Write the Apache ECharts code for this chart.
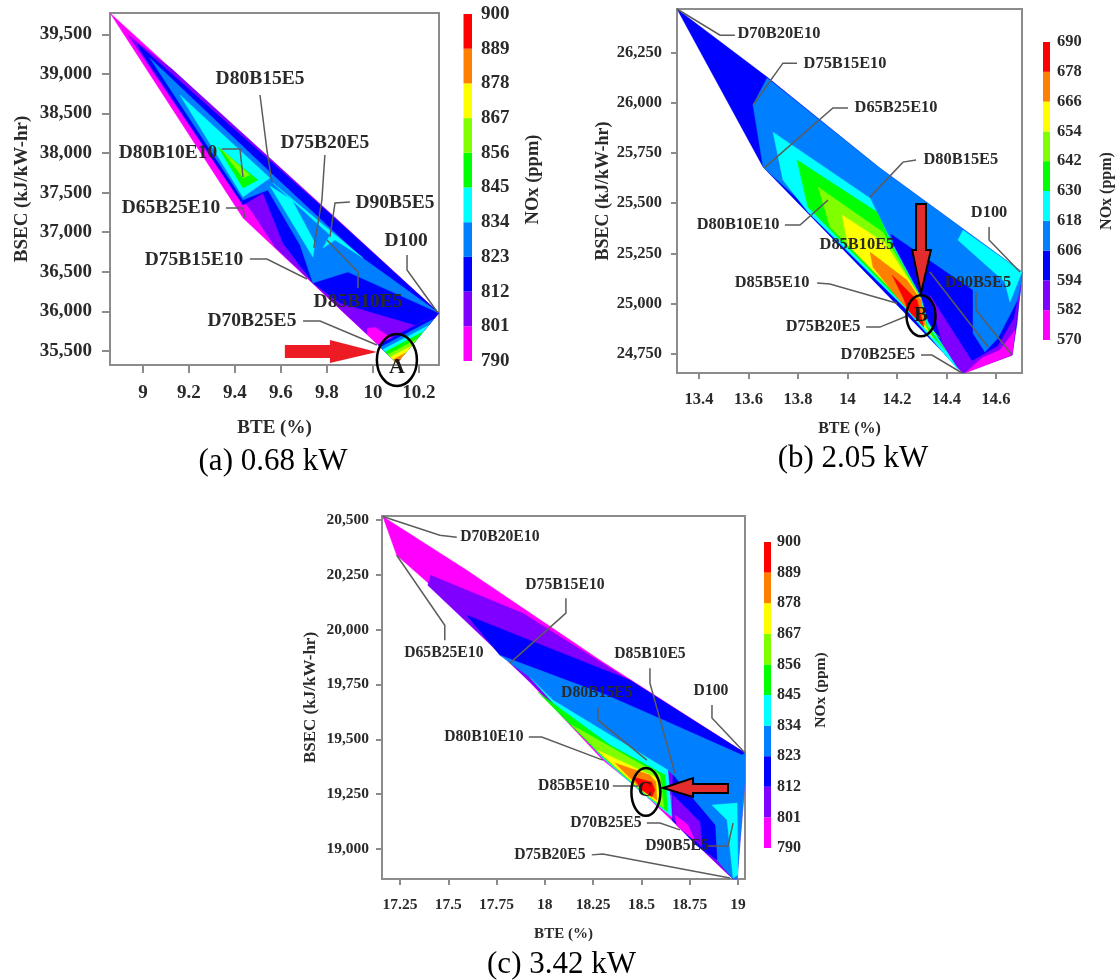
<!DOCTYPE html>
<html><head><meta charset="utf-8">
<style>html,body{margin:0;padding:0;background:#fff}#c{width:1116px;height:980px}</style>
<script src="https://cdn.jsdelivr.net/npm/echarts@6/dist/echarts.min.js"></script>
</head><body><div id="c"></div>
<script>
// NOx colour bands: each level is the lower bound of a band
const levelsAC = [790,801,812,823,834,845,856,867,878,889,900];
const levelsB = [570,582,594,606,618,630,642,654,666,678,690];
const bandColors = ['#ff00ff','#8000ff','#0000ff','#0080ff','#00ffff','#00ff00','#80ff00','#ffff00','#ff8000','#ff0000'];

// Axis ticks
const xTicksA = [9,9.2,9.4,9.6,9.8,10,10.2];
const yTicksA = [35500,36000,36500,37000,37500,38000,38500,39000,39500];
const xTicksB = [13.4,13.6,13.8,14,14.2,14.4,14.6];
const yTicksB = [24750,25000,25250,25500,25750,26000,26250];
const xTicksC = [17.25,17.5,17.75,18,18.25,18.5,18.75,19];
const yTicksC = [19000,19250,19500,19750,20000,20250,20500];

// Filled contour regions, painted in order: [band index, [BTE, BSEC] vertices]
const regionsA = [
 [0,[[8.857,39769],[10.287,35980],[10.104,35348],[10.022,35576],[9.435,37180]]],
 [1,[[8.935,39491],[9.126,39062],[9.857,37129],[10.287,35980],[10.083,35664],[10.009,35803],[9.974,35790],[9.974,35715],[9.857,36030],[9.574,36814],[9.478,37243],[9.452,37344],[9.413,37445]]],
 [2,[[8.978,39377],[9.813,37230],[10.287,35980],[10.183,35828],[9.857,36106],[9.739,36359],[9.609,36864],[9.522,37496],[9.435,37344],[8.987,39302]]],
 [3,[[9.030,39200],[9.552,37761],[9.943,36700],[10.287,35980],[9.891,36498],[9.739,36359],[9.683,36839],[9.543,37533],[9.435,37407]]],
 [4,[[9.161,38733],[9.552,37685],[9.435,37445]]],
 [4,[[9.552,37585],[9.648,37407],[9.748,36864],[9.739,36687]]],
 [4,[[9.565,37622],[9.957,36675],[9.835,36902],[9.783,36801],[9.813,36965]]],
 [5,[[9.326,38077],[9.500,37660],[9.435,37559]]],
 [6,[[9.343,38039],[9.465,37723],[9.435,37685]]],
 [2,[[10.022,35576],[10.287,35980],[10.104,35348]]],
 [3,[[10.032,35548],[10.265,35904],[10.104,35348]]],
 [4,[[10.043,35519],[10.241,35822],[10.104,35348]]],
 [5,[[10.053,35490],[10.217,35740],[10.104,35348]]],
 [6,[[10.065,35457],[10.191,35652],[10.104,35348]]],
 [7,[[10.076,35425],[10.167,35563],[10.104,35348]]],
 [8,[[10.088,35394],[10.141,35475],[10.104,35348]]],
 [9,[[10.098,35366],[10.119,35399],[10.104,35348]]]
];
const regionsB = [
 [2,[[13.311,26465],[13.675,26127],[14.131,25674],[14.705,25158],[14.685,24904],[14.665,24745],[14.467,24656],[13.659,25679]]],
 [3,[[13.675,26122],[14.131,25674],[14.705,25158],[14.697,25043],[14.608,24830],[14.555,24760],[14.507,24854],[14.507,25068],[14.172,25351],[14.184,25302],[13.840,25476],[13.659,25679],[13.618,25988]]],
 [4,[[14.467,25366],[14.705,25158],[14.656,25008],[14.636,25108],[14.446,25317]]],
 [1,[[14.333,25043],[14.503,24715],[14.608,24790],[14.673,24929],[14.701,25093],[14.665,24745],[14.467,24656],[14.394,24745]]],
 [0,[[14.677,24869],[14.665,24745],[14.475,24656],[14.543,24730],[14.616,24770]]],
 [4,[[13.699,25853],[14.091,25525],[14.180,25302],[14.297,25033],[14.325,24909],[14.454,24661],[14.232,24979],[13.840,25456],[13.739,25615]]],
 [5,[[13.796,25714],[14.119,25456],[14.180,25292],[14.293,25033],[14.321,24894],[14.394,24770],[14.232,24989],[13.840,25481]]],
 [6,[[13.881,25580],[14.143,25356],[14.212,25207],[14.293,25033],[14.317,24894],[14.374,24830],[14.240,24994],[13.929,25381]]],
 [7,[[13.978,25441],[14.151,25302],[14.293,25033],[14.313,24894],[14.345,24830],[14.232,25003],[14.002,25292]]],
 [8,[[14.091,25257],[14.240,25118],[14.297,25018],[14.313,24894],[14.273,24929],[14.200,25033],[14.103,25182]]],
 [9,[[14.180,25143],[14.281,25018],[14.309,24884],[14.244,24969],[14.224,25033]]]
];
const regionsC = [
 [0,[[17.161,20516],[17.596,20271],[18.285,19861],[19.036,19437],[19.036,19305],[18.995,18863],[18.974,18863],[18.492,19269],[18.300,19405],[17.922,19761],[17.596,20057],[17.233,20339]]],
 [1,[[17.409,20248],[17.886,20075],[19.036,19437],[18.995,18863],[18.974,18863],[18.777,19027],[18.741,19109],[18.673,19150],[18.658,19246],[18.492,19264],[17.922,19761],[17.394,20202]]],
 [2,[[17.596,20066],[18.285,19824],[18.440,19770],[19.036,19437],[19.020,19428],[18.580,19601],[18.321,19701],[17.767,19883]]],
 [3,[[17.767,19883],[18.321,19701],[18.580,19601],[19.020,19428],[19.036,19437],[19.036,19305],[18.995,18863],[18.974,18863],[18.891,18950],[18.881,19109],[18.663,19337],[18.637,19360],[18.041,19679],[17.922,19783]]],
 [2,[[18.663,19337],[18.881,19109],[18.891,18950],[18.782,19018],[18.658,19132]]],
 [1,[[18.663,19246],[18.803,19123],[18.813,19009],[18.658,19141]]],
 [0,[[18.673,19155],[18.741,19109],[18.777,19036],[18.684,19105]]],
 [4,[[18.865,19200],[18.995,19209],[19.000,18882],[18.974,18868],[18.943,19132]]],
 [4,[[17.922,19783],[18.041,19679],[18.637,19360],[18.658,19146],[18.492,19264],[18.300,19414]]],
 [5,[[17.964,19715],[18.337,19474],[18.622,19337],[18.637,19168],[18.492,19269],[18.300,19419]]],
 [6,[[18.140,19565],[18.414,19428],[18.596,19337],[18.616,19187],[18.492,19273],[18.300,19424]]],
 [7,[[18.269,19451],[18.492,19360],[18.580,19323],[18.596,19200],[18.492,19273]]],
 [8,[[18.363,19392],[18.544,19337],[18.575,19305],[18.580,19223],[18.492,19278]]],
 [9,[[18.456,19328],[18.554,19305],[18.570,19269],[18.554,19237],[18.502,19269]]]
];

// Blend labels: [name, BTE, BSEC]
const labelsA = [['D80B15E5',9.509,38935],['D80B10E10',9.109,38001],['D65B25E10',9.122,37306],['D75B20E5',9.791,38127],['D90B5E5',10.096,37369],['D100',10.144,36889],['D75B15E10',9.222,36649],['D85B10E5',9.935,36119],['D70B25E5',9.474,35879]];
const labelsB = [['D70B20E10',13.723,26340],['D75B15E10',13.990,26191],['D65B25E10',14.196,25973],['D80B15E5',14.458,25714],['D80B10E10',13.558,25391],['D85B10E5',14.038,25292],['D85B5E10',13.695,25103],['D75B20E5',13.901,24884],['D70B25E5',14.123,24745],['D100',14.572,25451],['D90B5E5',14.527,25103]];
const labelsC = [['D70B20E10',17.767,20421],['D75B15E10',18.104,20202],['D65B25E10',17.477,19893],['D85B10E5',18.544,19888],['D80B15E5',18.269,19710],['D100',18.860,19720],['D80B10E10',17.684,19510],['D85B5E10',18.150,19287],['D70B25E5',18.316,19118],['D90B5E5',18.684,19014],['D75B20E5',18.026,18973]];

// Leader lines from labels to blend points
const leadersA = [
 [[9.509,38733],[9.539,38039],[9.561,37634]],[[9.343,38051],[9.422,38051],[9.435,37698]],[[9.361,37306],[9.435,37306],[9.443,37180]],
 [[9.791,37975],[9.778,37407],[9.743,36801]],[[9.900,37382],[9.835,37369],[9.813,36940]],[[10.148,36712],[10.148,36523],[10.283,35980]],
 [[9.465,36662],[9.539,36662],[9.713,36409]],[[9.935,36296],[9.935,36498],[9.800,36902]],[[9.696,35879],[9.770,35879],[10.017,35576]]
];
const leadersB = [
 [[13.311,26465],[13.485,26335],[13.545,26335]],[[13.796,26196],[13.739,26196],[13.618,25988]],[[14.002,25973],[13.941,25973],[13.663,25674]],
 [[14.277,25714],[14.224,25704],[14.091,25530]],[[13.747,25391],[13.808,25391],[13.921,25515]],[[13.877,25103],[13.929,25098],[14.200,25003]],
 [[14.075,24884],[14.131,24884],[14.240,24939]],[[14.297,24745],[14.341,24745],[14.463,24656]],[[14.572,25381],[14.572,25317],[14.697,25158]],
 [[14.519,25058],[14.519,24969],[14.665,24745]],[[14.333,25158],[14.568,24785]]
];
const leadersC = [
 [[17.161,20516],[17.456,20430],[17.544,20421]],[[18.109,20143],[18.109,20075],[17.819,19847]],[[17.482,19952],[17.482,20020],[17.233,20339]],
 [[18.544,19824],[18.544,19756],[18.673,19346]],[[18.275,19647],[18.275,19587],[18.528,19405]],[[18.865,19656],[18.865,19597],[19.036,19437]],
 [[17.917,19510],[17.984,19510],[18.300,19405]],[[18.352,19287],[18.492,19287]],[[18.528,19118],[18.596,19118],[18.699,19087]],
 [[18.844,19014],[18.948,19014],[18.974,19118]],[[18.243,18973],[18.300,18977],[18.958,18868]]
];

// Highlight arrows, ellipses [cx, cy, rx, ry] and letters
const arrowA = [[9.617,35576],[9.813,35576],[9.813,35639],[10.017,35487],[9.813,35348],[9.813,35412],[9.617,35412]];
const arrowB = [[14.277,25496],[14.317,25496],[14.317,25267],[14.337,25267],[14.297,25053],[14.261,25267],[14.277,25267]];
const arrowC = [[18.948,19296],[18.767,19296],[18.767,19323],[18.611,19278],[18.767,19237],[18.767,19255],[18.948,19255]];
const ringA = [10.104,35386,0.087,328];
const ringB = [14.297,24941,0.0586,102];
const ringC = [18.523,19260,0.075,109];
const letterA = ['A',10.104,35298];
const letterB = ['B',14.297,24939];
const letterC = ['C',18.518,19264];

const captions = ['(a) 0.68 kW','(b) 2.05 kW','(c) 3.42 kW'];

const SERIF = '"Liberation Serif", serif';
const INK = '#2a2a2a', FRAME = '#8c8c8c';

const panels = [
 {grid:{left:110,top:13,width:329,height:352}, xr:[8.857,10.287], yr:[35323,39769], xt:xTicksA, yt:yTicksA, regions:regionsA, labels:labelsA, leaders:leadersA, arrow:arrowA, ring:ringA, letter:letterA,
  arrowStyle:{fill:'#ed1c24'}, font:19.5, tick:19, tickLen:8, xM:19, yM:18, axis:19, yAxisFont:19, xGap:54, yGap:78,
  bar:{left:463.5,top:14,width:8.5,height:347}, levels:levelsAC, barFont:19, barM:9, barGap:52, barName:18.5, barPad:16, letterFont:22},
 {grid:{left:677,top:9,width:345,height:364}, xr:[13.311,14.705], yr:[24656,26465], xt:xTicksB, yt:yTicksB, regions:regionsB, labels:labelsB, leaders:leadersB, arrow:arrowB, ring:ringB, letter:letterB,
  arrowStyle:{fill:'#e52c2c',stroke:'#000',lineWidth:2}, font:16.4, tick:16.5, tickLen:6, xM:18, yM:15, axis:16, yAxisFont:18, xGap:48, yGap:65,
  bar:{left:1043,top:42,width:7,height:298}, levels:levelsB, barFont:16.5, barM:7, barGap:49, barName:16, barPad:0, letterFont:21},
 {grid:{left:382,top:516,width:363,height:363}, xr:[17.157,19.036], yr:[18863,20518], xt:xTicksC, yt:yTicksC, regions:regionsC, labels:labelsC, leaders:leadersC, arrow:arrowC, ring:ringC, letter:letterC,
  arrowStyle:{fill:'#e52c2c',stroke:'#000',lineWidth:2}, font:15.7, tick:15.5, tickLen:6, xM:18, yM:13, axis:15, yAxisFont:17, xGap:48, yGap:63,
  bar:{left:764,top:542,width:7,height:306}, levels:levelsAC, barFont:16, barM:6, barGap:42, barName:15.5, barPad:10, letterFont:20}
];

const fmtK = v => Number(v).toLocaleString('en-US');
const grids=[], xAxes=[], yAxes=[], series=[];
panels.forEach((p,n)=>{
  const gi = grids.length;
  grids.push(Object.assign({show:true,backgroundColor:'#fff',borderColor:FRAME,borderWidth:2},p.grid));
  xAxes.push({gridIndex:gi,type:'value',min:p.xr[0],max:p.xr[1],name:'BTE (%)',nameLocation:'middle',nameGap:p.xGap,
    nameTextStyle:{fontFamily:SERIF,fontWeight:'bold',fontSize:p.axis,color:INK},
    splitLine:{show:false},axisLine:{show:true,onZero:false,lineStyle:{color:FRAME,width:2}},
    axisTick:{show:true,length:p.tickLen,customValues:p.xt,lineStyle:{color:FRAME,width:2}},
    axisLabel:{customValues:p.xt,margin:p.xM,fontFamily:SERIF,fontWeight:'bold',fontSize:p.tick,color:INK,formatter:v=>String(v)}});
  yAxes.push({gridIndex:gi,type:'value',min:p.yr[0],max:p.yr[1],name:'BSEC (kJ/kW-hr)',nameLocation:'middle',nameGap:p.yGap,nameRotate:90,
    nameTextStyle:{fontFamily:SERIF,fontWeight:'bold',fontSize:p.yAxisFont,color:INK},
    splitLine:{show:false},axisLine:{show:true,onZero:false,lineStyle:{color:FRAME,width:2}},
    axisTick:{show:true,length:p.tickLen,customValues:p.yt,lineStyle:{color:FRAME,width:2}},
    axisLabel:{customValues:p.yt,margin:p.yM,fontFamily:SERIF,fontWeight:'bold',fontSize:p.tick,color:INK,formatter:fmtK}});
  const base = {type:'custom',xAxisIndex:gi,yAxisIndex:gi,animation:false,silent:true};
  series.push(Object.assign({},base,{name:'NOx regions '+captions[n],z:2,data:p.regions.map(r=>p.levels[r[0]]),
    renderItem:(ps,api)=>{const r=p.regions[ps.dataIndex];
      return {type:'polygon',shape:{points:r[1].map(c=>api.coord(c))},style:{fill:bandColors[r[0]],stroke:bandColors[r[0]],lineWidth:0.4}};}}));
  series.push(Object.assign({},base,{name:'leaders',z:3,data:p.leaders.map((l,i)=>i),
    renderItem:(ps,api)=>({type:'polyline',shape:{points:p.leaders[ps.dataIndex].map(c=>api.coord(c))},style:{fill:null,stroke:'#5c5c5c',lineWidth:1.5}})}));
  series.push(Object.assign({},base,{name:'blend labels',z:4,data:p.labels.map(l=>l[0]),
    renderItem:(ps,api)=>{const l=p.labels[ps.dataIndex],c=api.coord([l[1],l[2]]);
      return {type:'text',x:c[0],y:c[1],style:{text:l[0],fill:INK,font:'bold '+p.font+'px '+SERIF,textAlign:'center',textVerticalAlign:'middle'}};}}));
  series.push(Object.assign({},base,{name:'arrow',z:5,data:[0],
    renderItem:(ps,api)=>({type:'polygon',shape:{points:p.arrow.map(c=>api.coord(c))},style:p.arrowStyle})}));
  series.push(Object.assign({},base,{name:'ring',z:6,data:[0],
    renderItem:(ps,api)=>{const c=api.coord([p.ring[0],p.ring[1]]),s=api.size([p.ring[2],p.ring[3]]);
      return {type:'ellipse',shape:{cx:c[0],cy:c[1],rx:s[0],ry:s[1]},style:{fill:null,stroke:'#000',lineWidth:2.5}};}}));
  series.push(Object.assign({},base,{name:'letter',z:7,data:[p.letter[0]],
    renderItem:(ps,api)=>{const c=api.coord([p.letter[1],p.letter[2]]);
      return {type:'text',x:c[0],y:c[1],style:{text:p.letter[0],fill:'#1a1a1a',font:'bold '+p.letterFont+'px '+SERIF,textAlign:'center',textVerticalAlign:'middle'}};}}));

  // Colour bar as its own grid with a category axis of band limits
  const bi = grids.length;
  grids.push(p.bar);
  xAxes.push({gridIndex:bi,type:'value',min:0,max:1,show:false});
  yAxes.push({gridIndex:bi,type:'category',boundaryGap:false,position:'right',data:p.levels.map(String),
    name:'NOx (ppm)',nameLocation:'middle',nameGap:p.barGap,nameRotate:90,
    nameTextStyle:{fontFamily:SERIF,fontWeight:'bold',fontSize:p.barName,color:INK,padding:[0,0,0,p.barPad]},
    axisLine:{show:false},axisTick:{show:false},splitLine:{show:false},
    axisLabel:{interval:0,margin:p.barM,fontFamily:SERIF,fontWeight:'bold',fontSize:p.barFont,color:INK}});
  series.push({type:'custom',name:'NOx colour bar',xAxisIndex:bi,yAxisIndex:bi,animation:false,silent:true,z:2,data:bandColors.map((c,i)=>i),
    renderItem:(ps,api)=>{const i=ps.dataIndex,a=api.coord([0,i+1]),b=api.coord([1,i]);
      return {type:'rect',shape:{x:a[0],y:a[1],width:b[0]-a[0],height:b[1]-a[1]},style:{fill:bandColors[i]}};}});
});

const capStyle = {fontFamily:SERIF,fontWeight:'normal',fontSize:31,color:'#000'};
const chart = echarts.init(document.getElementById('c'),null,{renderer:'canvas',width:1116,height:980});
chart.setOption({
  backgroundColor:'#fff',animation:false,
  title:[
    {text:captions[0],left:268,top:441,textAlign:'center',textStyle:capStyle},
    {text:captions[1],left:848,top:438,textAlign:'center',textStyle:capStyle},
    {text:captions[2],left:556.5,top:944,textAlign:'center',textStyle:capStyle}
  ],
  grid:grids,xAxis:xAxes,yAxis:yAxes,series:series
});
</script></body></html>
